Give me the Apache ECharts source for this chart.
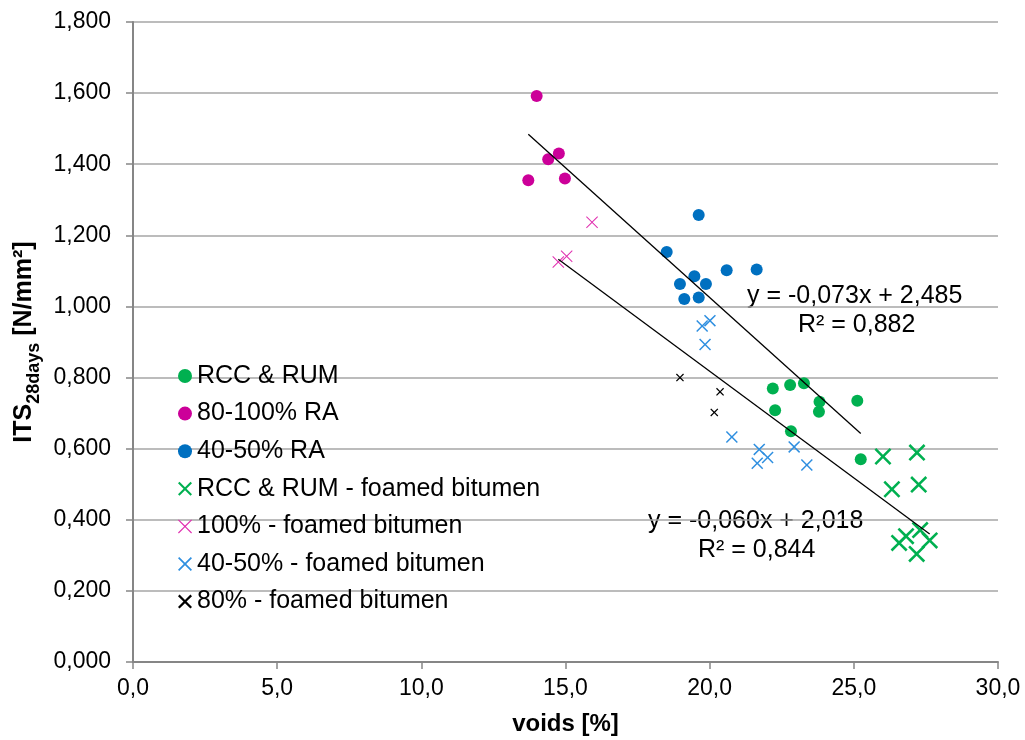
<!DOCTYPE html>
<html><head><meta charset="utf-8">
<script src="https://cdn.jsdelivr.net/npm/echarts@6/dist/echarts.min.js"></script>
<style>html,body{margin:0;padding:0;background:#fff}#c{width:1025px;height:740px}</style>
</head><body><div id="c"></div>
<script>
// ---- data ----
const rccRum = [[22.19,0.769],[22.79,0.779],[23.27,0.784],[23.81,0.732],[25.12,0.735],[22.27,0.708],[23.79,0.704],[22.82,0.649],[25.24,0.570]];
const ra80100 = [[14.00,1.592],[14.77,1.430],[14.40,1.414],[13.71,1.355],[14.98,1.360]];
const ra4050 = [[19.62,1.257],[18.51,1.153],[19.47,1.085],[18.97,1.063],[19.87,1.063],[20.59,1.102],[21.63,1.104],[19.12,1.021],[19.62,1.025]];
const rccRumFoam = [[26.01,0.578],[27.19,0.589],[26.32,0.486],[27.25,0.499],[26.57,0.335],[26.81,0.354],[27.30,0.371],[27.63,0.342],[27.18,0.304]];
const foam100 = [[14.75,1.125],[15.04,1.141],[15.92,1.237]];
const foam4050 = [[20.01,0.960],[19.74,0.945],[19.84,0.893],[20.77,0.633],[21.72,0.598],[22.01,0.575],[21.65,0.559],[22.93,0.605],[23.37,0.554]];
const foam80 = [[18.97,0.800],[20.36,0.760],[20.16,0.702]];
// trend lines: slope, intercept, x range
const trendA = {slope:-0.073, intercept:2.485, xFrom:13.71, xTo:25.24, eq:'y = -0,073x + 2,485', r2:'R² = 0,882'};
const trendB = {slope:-0.060, intercept:2.018, xFrom:14.75, xTo:27.63, eq:'y = -0,060x + 2,018', r2:'R² = 0,844'};
const seriesNames = ['RCC & RUM','80-100% RA','40-50% RA','RCC & RUM - foamed bitumen','100% - foamed bitumen','40-50% - foamed bitumen','80% - foamed bitumen'];

function xPath(a){
  const b=100-a;
  return 'path://M'+a+',0 L50,'+(50-a)+' L'+b+',0 L100,'+a+' L'+(50+a)+',50 L100,'+b+' L'+b+',100 L50,'+(50+a)+' L'+a+',100 L0,'+b+' L'+(50-a)+',50 L0,'+a+' Z';
}
function trendData(t){ return [[t.xFrom, t.slope*t.xFrom+t.intercept],[t.xTo, t.slope*t.xTo+t.intercept]]; }

const chart = echarts.init(document.getElementById('c'));
const FONT = 'Liberation Sans, Arial, sans-serif';
function sc(name, data, color, symbol, size){
  return {name, type:'scatter', data, symbol, symbolSize:size, itemStyle:{color, opacity:1}, z:2};
}
chart.setOption({
  animation:false,
  textStyle:{fontFamily:FONT},
  grid:{left:133, right:27, top:22, bottom:78, containLabel:false, outerBoundsMode:'none'},
  xAxis:{type:'value', min:0, max:30, interval:5,
    axisLine:{show:true, lineStyle:{color:'#868686', width:2}},
    axisTick:{show:true, length:7, lineStyle:{color:'#868686', width:1.5}},
    splitLine:{show:false},
    axisLabel:{color:'#000', fontSize:23, margin:15, fontFamily:FONT, formatter:v=>v.toFixed(1).replace('.',',')},
    name:'voids [%]', nameLocation:'middle', nameGap:50,
    nameTextStyle:{color:'#000', fontSize:24, fontWeight:'bold', fontFamily:FONT}
  },
  yAxis:{type:'value', min:0, max:1.8, interval:0.2,
    axisLine:{show:true, lineStyle:{color:'#868686', width:2}},
    axisTick:{show:true, length:7, lineStyle:{color:'#868686', width:1.5}},
    splitLine:{show:true, lineStyle:{color:'#a6a6a6', width:1.5}},
    axisLabel:{color:'#000', fontSize:23, margin:22, fontFamily:FONT, formatter:v=>v.toFixed(3).replace('.',',')},
    name:'{a|ITS}{s|28days}{a| [N/mm²]}', nameLocation:'middle', nameGap:93, nameRotate:90,
    nameTextStyle:{color:'#000', fontFamily:FONT, rich:{
      a:{fontSize:25, fontWeight:'bold', fontFamily:FONT, color:'#000', lineHeight:28, verticalAlign:'bottom'},
      s:{fontSize:18, fontWeight:'bold', fontFamily:FONT, color:'#000', lineHeight:22, verticalAlign:'bottom', padding:[0,0,-6,0]}
    }}
  },
  legend:{orient:'vertical', left:173, top:358, itemWidth:14, itemHeight:14, itemGap:11.6,
    textStyle:{fontSize:25, color:'#000', fontFamily:FONT, lineHeight:26},
    data:seriesNames},
  series:[
    sc(seriesNames[0], rccRum, '#00B050', 'circle', 12),
    sc(seriesNames[1], ra80100, '#CC0099', 'circle', 12),
    sc(seriesNames[2], ra4050, '#0070C0', 'circle', 12),
    sc(seriesNames[3], rccRumFoam, '#00B050', xPath(10.6), 17),
    sc(seriesNames[4], foam100, '#E030B0', xPath(6), 12),
    sc(seriesNames[5], foam4050, '#2F8FE0', xPath(8.8), 12),
    sc(seriesNames[6], foam80, '#000000', xPath(11), 8),
    {type:'line', data:trendData(trendA), symbol:'none', z:5, silent:true, lineStyle:{color:'#000', width:1.3}},
    {type:'line', data:trendData(trendB), symbol:'none', z:5, silent:true, lineStyle:{color:'#000', width:1.3}}
  ],
  graphic:[
    {type:'text', left:747, top:284, style:{text:trendA.eq, fontSize:25, fill:'#000', fontFamily:FONT}},
    {type:'text', left:798, top:313, style:{text:trendA.r2, fontSize:25, fill:'#000', fontFamily:FONT}},
    {type:'text', left:648, top:509, style:{text:trendB.eq, fontSize:25, fill:'#000', fontFamily:FONT}},
    {type:'text', left:698, top:538, style:{text:trendB.r2, fontSize:25, fill:'#000', fontFamily:FONT}}
  ]
});
</script></body></html>
